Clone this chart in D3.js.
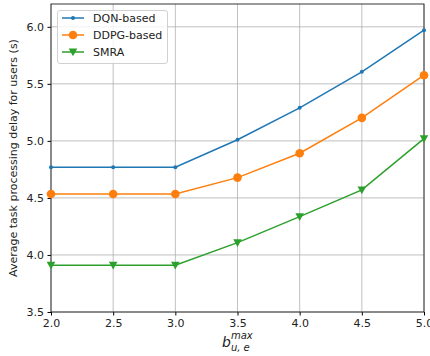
<!DOCTYPE html>
<html>
<head>
<meta charset="utf-8">
<script src="https://cdn.jsdelivr.net/npm/d3@7"></script>
<style>
  body { margin: 0; background: #fff; }
  text { font-family: "DejaVu Sans", sans-serif; }
</style>
</head>
<body>
<figure id="chart" style="margin:0"></figure>
<script>
const xValues = [2.0, 2.5, 3.0, 3.5, 4.0, 4.5, 5.0];
const dqn = [4.77, 4.77, 4.77, 5.01, 5.29, 5.605, 5.97];
const ddpg = [4.535, 4.535, 4.535, 4.678, 4.892, 5.202, 5.576];
const smra = [3.91, 3.91, 3.91, 4.108, 4.336, 4.57, 5.02];
const xTicks = [2.0, 2.5, 3.0, 3.5, 4.0, 4.5, 5.0];
const yTicks = [3.5, 4.0, 4.5, 5.0, 5.5, 6.0];
const seriesNames = ["DQN-based", "DDPG-based", "SMRA"];

const W = 430, H = 356;
const mLeft = 51, mRight = 424, mTop = 4, mBottom = 312;

const svg = d3.select("#chart").append("svg")
  .attr("width", W).attr("height", H);

const x = d3.scaleLinear().domain([2.0, 5.0]).range([mLeft, mRight]);
const y = d3.scaleLinear().domain([3.5, 6.2]).range([mBottom, mTop]);

// grid
const grid = svg.append("g").attr("stroke", "#b0b0b0").attr("stroke-width", 0.8);
grid.selectAll(".gx").data(xTicks).enter().append("line")
  .attr("x1", d => x(d)).attr("x2", d => x(d))
  .attr("y1", mTop).attr("y2", mBottom);
grid.selectAll(".gy").data(yTicks).enter().append("line")
  .attr("x1", mLeft).attr("x2", mRight)
  .attr("y1", d => y(d)).attr("y2", d => y(d));

// axes
svg.append("g")
  .attr("transform", "translate(0," + mBottom + ")")
  .call(d3.axisBottom(x).tickValues(xTicks).tickFormat(d3.format(".1f")).tickSize(3.5).tickPadding(3.5))
  .call(g => g.select(".domain").remove())
  .call(g => g.selectAll("text").attr("font-size", 11).attr("fill", "#222"));
svg.append("g")
  .attr("transform", "translate(" + mLeft + ",0)")
  .call(d3.axisLeft(y).tickValues(yTicks).tickFormat(d3.format(".1f")).tickSize(3.5).tickPadding(3.5))
  .call(g => g.select(".domain").remove())
  .call(g => g.selectAll("text").attr("font-size", 11).attr("fill", "#222"));

// frame
svg.append("rect")
  .attr("x", mLeft).attr("y", mTop)
  .attr("width", mRight - mLeft).attr("height", mBottom - mTop)
  .attr("fill", "none").attr("stroke", "#222").attr("stroke-width", 0.9);

const series = [
  { name: seriesNames[0], values: dqn, color: "#1f77b4", marker: "dot" },
  { name: seriesNames[1], values: ddpg, color: "#ff7f0e", marker: "circle" },
  { name: seriesNames[2], values: smra, color: "#2ca02c", marker: "tri" }
];

const line = d3.line().x((d, i) => x(xValues[i])).y(d => y(d));

function drawMarker(g, type, cx, cy, color) {
  if (type === "dot") {
    g.append("circle").attr("cx", cx).attr("cy", cy).attr("r", 2).attr("fill", color);
  } else if (type === "circle") {
    g.append("circle").attr("cx", cx).attr("cy", cy).attr("r", 4.3).attr("fill", color);
  } else {
    const s = 4.3;
    g.append("path")
      .attr("d", `M${cx - s},${cy - s * 0.8}L${cx + s},${cy - s * 0.8}L${cx},${cy + s}Z`)
      .attr("fill", color);
  }
}

series.forEach(s => {
  const g = svg.append("g");
  g.append("path").datum(s.values)
    .attr("d", line).attr("fill", "none")
    .attr("stroke", s.color).attr("stroke-width", 1.5);
  s.values.forEach((v, i) => drawMarker(g, s.marker, x(xValues[i]), y(v), s.color));
});

// legend
const lg = svg.append("g");
lg.append("rect").attr("x", 57.5).attr("y", 10.5).attr("width", 110).attr("height", 53)
  .attr("rx", 2.5).attr("fill", "#fff").attr("fill-opacity", 0.8)
  .attr("stroke", "#ccc").attr("stroke-width", 0.9);
series.forEach((s, i) => {
  const ly = 18 + i * 17;
  lg.append("line").attr("x1", 62).attr("x2", 84).attr("y1", ly).attr("y2", ly)
    .attr("stroke", s.color).attr("stroke-width", 1.5);
  drawMarker(lg, s.marker, 73, ly, s.color);
  lg.append("text").attr("x", 93).attr("y", ly + 4).attr("font-size", 11)
    .attr("fill", "#222").text(s.name);
});

// y label
svg.append("text")
  .attr("transform", `translate(17,${(mTop + mBottom) / 2}) rotate(-90)`)
  .attr("text-anchor", "middle").attr("font-size", 11).attr("fill", "#222")
  .text("Average task processing delay for users (s)");

// x label
const xl = svg.append("text").attr("x", 222).attr("y", 347).attr("fill", "#222")
  .attr("font-style", "italic");
xl.append("tspan").attr("font-size", 14).text("b");
xl.append("tspan").attr("font-size", 10).attr("dy", 4).text("u, e");
xl.append("tspan").attr("font-size", 10).attr("x", 231).attr("dy", -12).text("max");
</script>
</body>
</html>
